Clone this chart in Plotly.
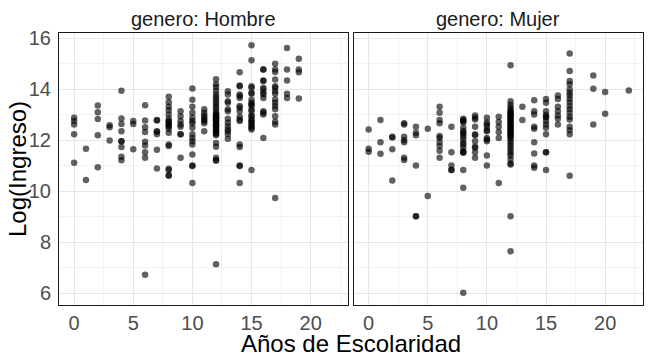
import plotly.graph_objects as go
from plotly.subplots import make_subplots

# ---- data: years of schooling -> list of log(income) values ----
hombre_cols = {
    0: [12.24, 12.89, 12.76, 12.63, 11.13],
    1: [11.67, 10.45],
    2: [13.37, 13.11, 12.84, 12.20, 10.95],
    3: [12.60, 12.52, 12.00],
    4: [13.95, 12.86, 12.65, 12.36, 11.97, 11.97, 11.74, 11.36, 11.22],
    5: [11.65, 12.65, 12.76],
    6: [13.38, 12.78, 12.52, 12.33, 11.95, 11.80, 11.54, 11.32, 6.73],
    7: [10.90, 12.78, 12.34, 11.64, 12.80, 12.24, 12.36],
    8: [13.71, 13.50, 13.32, 13.18, 13.02, 12.85, 12.72, 12.59, 12.46, 12.30,
        11.84, 11.78, 10.89, 10.63, 10.84, 10.62, 12.65, 12.55, 12.75],
    9: [13.15, 12.95, 12.76, 12.63, 12.54, 12.24, 11.32, 12.24],
    10: [14.04, 13.60, 13.32, 13.09, 12.89, 12.76, 12.67, 12.50, 12.24, 12.10,
         11.97, 11.84, 11.45, 11.02, 11.00, 10.33],
    11: [13.22, 13.09, 12.98, 12.82, 12.67, 12.36, 12.90, 12.75],
    12: [14.40, 14.20, 14.10, 13.95, 13.80, 13.70, 13.60, 13.50, 13.40, 13.30,
         13.20, 13.10, 13.05, 13.00, 12.95, 12.90, 12.85, 12.80, 12.75, 12.70,
         12.65, 12.60, 12.55, 12.50, 12.45, 12.40, 12.35, 12.30, 12.25, 12.20,
         11.90, 11.75, 11.32, 11.23, 11.20, 7.14, 12.90, 12.80, 12.60],
    13: [13.93, 13.80, 13.54, 13.22, 12.85, 12.69, 12.56, 12.36, 12.24, 12.07,
         13.48, 13.15, 12.43],
    14: [14.68, 14.16, 13.74, 13.35, 13.15, 12.82, 11.84, 11.74, 11.02, 10.33,
         11.00, 14.13, 13.80, 13.67, 13.28, 12.93, 12.76],
    15: [15.73, 15.15, 14.13, 13.87, 13.48, 13.22, 12.95, 12.70, 12.50, 10.84,
         14.07, 13.83, 13.41, 13.15, 12.82, 12.63, 12.43, 13.60, 13.37, 12.98,
         12.76, 12.56],
    16: [14.78, 14.35, 14.07, 13.87, 13.80, 13.15, 13.02, 12.10, 14.78, 14.33,
         14.00, 13.67, 13.09],
    17: [15.01, 14.78, 14.69, 14.39, 14.13, 14.07, 13.93, 13.83, 13.61, 13.48,
         13.35, 13.22, 12.95, 12.73, 12.63, 9.74],
    18: [15.63, 14.78, 14.35, 13.83, 13.67],
    19: [13.65, 15.20, 14.78, 14.68],
}

mujer_cols = {
    0: [12.43, 11.67, 11.56],
    1: [12.80, 11.93, 11.48],
    2: [12.15, 12.12, 11.65, 10.43],
    3: [12.63, 12.67, 12.15, 12.01, 11.93, 11.32, 11.23],
    4: [12.54, 12.30, 12.20, 11.02, 9.03, 9.03],
    5: [12.46, 9.82],
    6: [13.32, 13.09, 12.80, 12.67, 12.17, 12.10, 11.93, 11.78, 11.60, 11.32],
    7: [12.54, 11.54, 10.84, 10.84, 11.02],
    8: [12.85, 12.80, 12.70, 12.50, 12.37, 12.24, 12.15, 11.84, 11.71, 11.58,
        11.52, 10.84, 10.14, 6.03, 12.76, 12.30, 12.04, 11.90, 11.54],
    9: [12.98, 12.89, 12.54, 12.20, 11.75, 11.54, 11.32, 12.82, 12.24, 11.97, 11.71],
    10: [12.89, 12.63, 12.54, 12.36, 12.10, 12.04, 11.97, 11.41, 11.02, 12.70, 12.40],
    11: [10.33, 12.93, 12.72, 12.54, 12.33, 12.10],
    12: [14.95, 13.54, 13.40, 13.30, 13.20, 13.15, 13.10, 13.05, 13.00, 12.95,
         12.90, 12.85, 12.80, 12.75, 12.70, 12.65, 12.60, 12.55, 12.50, 12.45,
         12.40, 12.35, 12.30, 12.25, 12.20, 12.15, 12.10, 12.00, 11.90, 11.80,
         11.70, 11.60, 11.50, 11.40, 11.25, 11.10, 11.06, 9.03, 7.65],
    13: [13.32, 12.80],
    14: [13.58, 13.15, 13.02, 12.54, 12.46, 11.93, 11.49, 11.02, 10.93],
    15: [13.63, 13.48, 13.15, 12.93, 12.76, 12.63, 12.50, 12.24, 11.54, 11.54,
         10.84, 12.90, 13.00],
    16: [13.76, 13.63, 13.32, 13.15, 12.98, 12.85, 12.63],
    17: [15.41, 14.72, 14.33, 14.20, 14.00, 13.87, 13.76, 13.63, 13.50, 13.35,
         13.22, 13.09, 12.93, 12.82, 12.54, 12.40, 12.24, 10.62],
    19: [14.55, 14.03, 12.63],
    20: [13.90, 13.05],
    22: [13.96],
}

panel_titles = ["genero: Hombre", "genero: Mujer"]
x_ticks = [0, 5, 10, 15, 20]
y_ticks = [6, 8, 10, 12, 14, 16]


def flatten(cols):
    xs, ys = [], []
    for k, vals in cols.items():
        for v in vals:
            xs.append(k)
            ys.append(v)
    return xs, ys


fig = make_subplots(rows=1, cols=2, shared_yaxes=True, horizontal_spacing=0.0086)

for i, cols in enumerate([hombre_cols, mujer_cols], start=1):
    xs, ys = flatten(cols)
    fig.add_trace(go.Scatter(x=xs, y=ys, mode="markers",
                             marker=dict(size=6.5, color="rgba(0,0,0,0.62)", line=dict(width=0)),
                             showlegend=False, hoverinfo="skip"), row=1, col=i)

grid = "#e6e6e6"
minor_grid = "#f2f2f2"
tick_font = dict(family="Liberation Sans", size=20, color="#4d4d4d")
for i in (1, 2):
    fig.update_xaxes(range=[-1.28, 23.2], tickvals=x_ticks, ticktext=[str(t) for t in x_ticks],
                     showgrid=True, gridcolor=grid, gridwidth=1, zeroline=False,
                     minor=dict(tick0=0, dtick=2.5, showgrid=True, gridcolor=minor_grid, gridwidth=1),
                     showline=True, linecolor="#1a1a1a", linewidth=1, mirror=True,
                     ticks="", ticklabelstandoff=0, tickfont=tick_font, automargin=False,
                     row=1, col=i)
    fig.update_yaxes(range=[5.545, 16.215], tickvals=y_ticks,
                     showgrid=True, gridcolor=grid, gridwidth=1, zeroline=False,
                     minor=dict(tick0=0, dtick=1, showgrid=True, gridcolor=minor_grid, gridwidth=1),
                     showline=True, linecolor="#1a1a1a", linewidth=1, mirror=True,
                     ticks="", ticklabelstandoff=3, tickfont=tick_font, automargin=False,
                     row=1, col=i)

# axis titles
fig.add_annotation(text="Años de Escolaridad", xref="paper", yref="paper", x=0.5, y=0,
                   yshift=-38, showarrow=False, xanchor="center", yanchor="middle",
                   font=dict(family="Liberation Sans", size=24, color="black"))
fig.add_annotation(text="Log(Ingreso)", xref="paper", yref="paper", x=0, y=0.5,
                   xshift=-42, textangle=-90, showarrow=False, xanchor="center", yanchor="middle",
                   font=dict(family="Liberation Sans", size=24, color="black"))

doms = [fig.layout.xaxis.domain, fig.layout.xaxis2.domain]
for t, d in zip(panel_titles, doms):
    fig.add_annotation(text=t, xref="paper", yref="paper", x=(d[0] + d[1]) / 2, y=1.0,
                       yshift=14, showarrow=False, xanchor="center", yanchor="middle",
                       font=dict(family="Liberation Sans", size=20, color="#1a1a1a"))

fig.update_layout(width=648, height=360, margin=dict(l=59, r=5, t=33, b=55, autoexpand=False),
                  plot_bgcolor="white", paper_bgcolor="white")

fig.write_html("out.html", config={"displayModeBar": False},
               post_script="document.body.style.margin='0px';")
